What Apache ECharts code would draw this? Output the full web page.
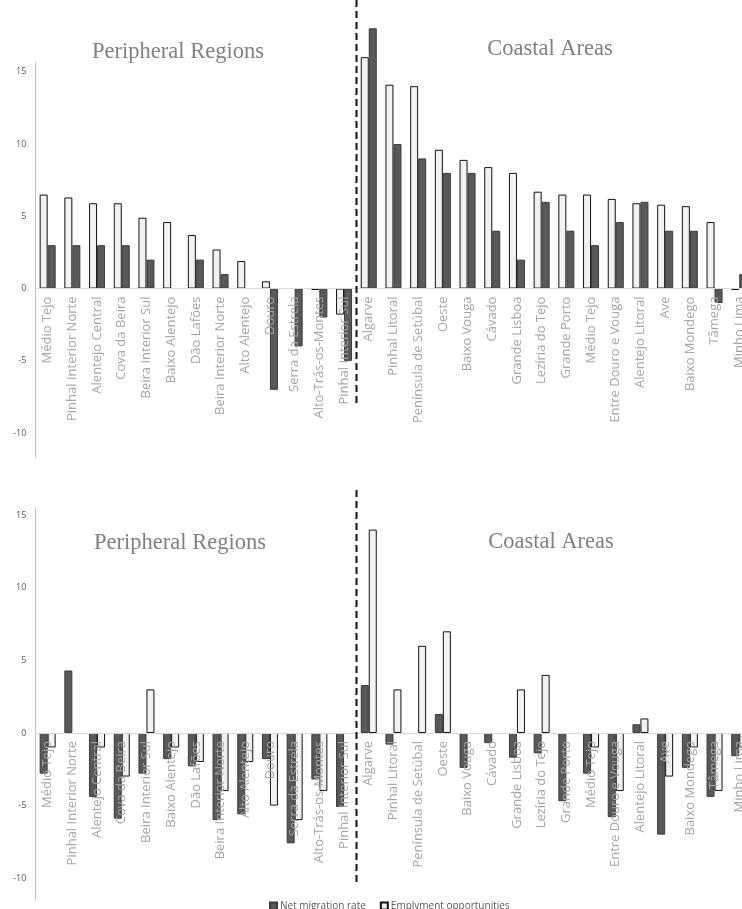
<!DOCTYPE html>
<html>
<head>
<meta charset="utf-8">
<script src="https://cdn.jsdelivr.net/npm/echarts@6/dist/echarts.min.js"></script>
<style>
html,body{margin:0;padding:0;background:#fff;}
#chart{width:742px;height:909px;}
</style>
</head>
<body>
<div id="chart"></div>
<script>
const categories = ['Médio Tejo','Pinhal Interior Norte','Alentejo Central','Cova da Beira','Beira Interior Sul','Baixo Alentejo','Dão Lafões','Beira Interior Norte','Alto Alentejo','Douro','Serra da Estrela','Alto-Trás-os-Montes','Pinhal Interior Sul',
  'Algarve','Pinhal Litoral','Península de Setúbal','Oeste','Baixo Vouga','Cávado','Grande Lisboa','Lezíria do Tejo','Grande Porto','Médio Tejo','Entre Douro e Vouga','Alentejo Litoral','Ave','Baixo Mondego','Tâmega','Minho Lima'];
const peripheralCount = 13;
const topEmployment = [6.5,6.3,5.9,5.9,4.9,4.6,3.7,2.7,1.9,0.5,0,-0.1,-1.8, 16,14.1,14,9.6,8.9,8.4,8.0,6.7,6.5,6.5,6.2,5.9,5.8,5.7,4.6,-0.1];
const topNetMigration = [3,3,3,3,2,0,2,1,0,-7,-4,-2,-5, 18,10,9,8,8,4,2,6,4,3,4.6,6,4,4,-1,1];
const bottomNetMigration = [-2.8,4.3,-4.4,-5.9,-2.8,-1.8,-2.3,-6.0,-5.6,-1.8,-7.6,-3.2,-5.1, 3.3,-0.8,0,1.3,-2.4,-0.7,-1.7,-1.4,-4.7,-2.8,-5.8,0.6,-7.0,-2.4,-4.4,-1.6];
const bottomEmployment = [-1.0,0,-1.0,-3.0,3.0,-1.0,-2.0,-4.0,-2.0,-5.0,-6.0,-4.0,0, 14,3,6,7,0,0,3,4,0,-1,-4,1,-3,-1,-4,-1];
const yTicks = [-10,-5,0,5,10,15];
const seriesNames = ['Net migration rate','Emplyment opportunities'];
const panelTitles = ['Peripheral Regions','Coastal Areas'];

const chart = echarts.init(document.getElementById('chart'), null, {renderer:'canvas'});

const darkStyle = {color:'#595959', borderColor:'#3a3a3a', borderWidth:1};
const lightStyle = {color:'#f2f2f2', borderColor:'#111111', borderWidth:1};

const grids = [
  {left:35.3, top:63, width:716.3, height:394, outerBoundsMode:'none', containLabel:false},
  {left:35.3, top:508, width:716.3, height:392, outerBoundsMode:'none', containLabel:false}
];

function xAxisDef(gridIndex){
  return {
    type:'category', gridIndex, data:categories, z:10, position:'bottom', offset:0,
    axisLine:{show:true, onZero:false, lineStyle:{color:'#d9d9d9', width:1}},
    axisTick:{show:false},
    axisLabel:{interval:0, rotate:90, margin:8, color:'#a6a6a6', fontFamily:'Open Sans', fontSize:13},
    splitLine:{show:false}
  };
}
function yAxisDef(gridIndex, min, max){
  return {
    type:'value', gridIndex, min, max,
    axisLine:{show:true, lineStyle:{color:'#bfbfbf', width:1}},
    axisTick:{show:false},
    splitLine:{show:false},
    axisLabel:{customValues:yTicks, color:'#595959', fontFamily:'Open Sans', fontSize:9, margin:9}
  };
}
function barSeries(name, gi, values, style){
  // zero values draw no bar (no border line either)
  const data = values.map(function(v){ return v === 0 ? {value:0, itemStyle:{borderWidth:0, opacity:0}} : v; });
  return {name, type:'bar', xAxisIndex:gi, yAxisIndex:gi, data, barWidth:8, barGap:'0%', itemStyle:style, clip:false};
}

const option = {
  animation:false,
  backgroundColor:'#fff',
  grid:grids,
  xAxis:[xAxisDef(0), xAxisDef(1)],
  yAxis:[yAxisDef(0,-11.65,15.6), yAxisDef(1,-11.5,15.49)],
  legend:{
    data:seriesNames, left:264, top:896, itemWidth:7, itemHeight:7, itemGap:14,
    textStyle:{color:'#595959', fontFamily:'Open Sans', fontSize:10, padding:[0,0,0,-2]},
    icon:'rect'
  },
  series:[
    barSeries(seriesNames[1], 0, topEmployment, lightStyle),
    barSeries(seriesNames[0], 0, topNetMigration, darkStyle),
    barSeries(seriesNames[0], 1, bottomNetMigration, darkStyle),
    barSeries(seriesNames[1], 1, bottomEmployment, lightStyle)
  ]
};
chart.setOption(option);

// move each category axis onto its zero line
const offsets = [0,1].map(function(i){
  const zeroY = chart.convertToPixel({yAxisIndex:i}, 0);
  return (grids[i].top + grids[i].height) - zeroY;
});
chart.setOption({xAxis:[{offset:-offsets[0]},{offset:-offsets[1]}]});

// decorations: dashed separator between peripheral and coastal groups, panel titles
const xa = chart.convertToPixel({xAxisIndex:0}, peripheralCount-1);
const xb = chart.convertToPixel({xAxisIndex:0}, peripheralCount);
const sepX = Math.round((xa+xb)/2) + 0.5;
const titleStyle = {fill:'#808080', fontFamily:'Liberation Serif', fontSize:22.5, align:'center', verticalAlign:'middle'};
chart.setOption({
  graphic:[
    {type:'line', shape:{x1:sepX,y1:0,x2:sepX,y2:404}, style:{stroke:'#111', lineWidth:2, lineDash:[7,4]}, z:100},
    {type:'line', shape:{x1:sepX,y1:490,x2:sepX,y2:885}, style:{stroke:'#111', lineWidth:2, lineDash:[7,4]}, z:100},
    {type:'text', x:178, y:52, style:Object.assign({text:panelTitles[0]}, titleStyle), z:100},
    {type:'text', x:550, y:49, style:Object.assign({text:panelTitles[1]}, titleStyle), z:100},
    {type:'text', x:180, y:543, style:Object.assign({text:panelTitles[0]}, titleStyle), z:100},
    {type:'text', x:551, y:542, style:Object.assign({text:panelTitles[1]}, titleStyle), z:100}
  ]
});
</script>
</body>
</html>
